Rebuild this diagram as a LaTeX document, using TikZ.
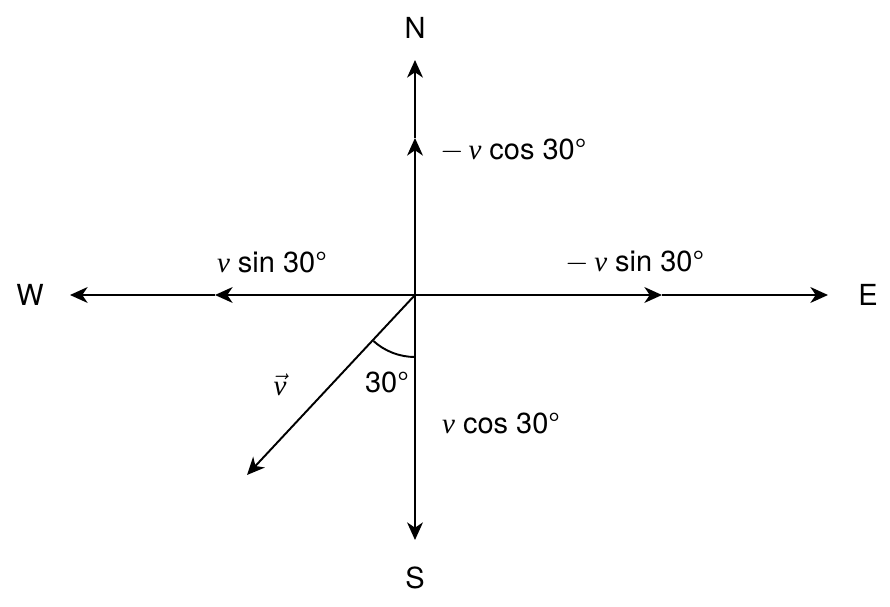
\documentclass[tikz,border=0pt]{standalone}
\usepackage{fontspec}
\setmainfont{TeX Gyre Heros}
\newfontfamily\vfont{Liberation Serif}
\usetikzlibrary{arrows.meta,positioning}
\newcommand{\vsym}{{\vfont\itshape v}}

\begin{document}
\begin{tikzpicture}[x=0.02cm,y=-0.02cm,
    font=\fontsize{16.5}{19}\selectfont,
    axis/.style={line width=1.1pt,-{Stealth[length=10pt,width=9pt,inset=3pt]}},
    lbl/.style={inner sep=1pt}]
    \useasboundingbox (0,0) rectangle (890,607);
    % points
    \coordinate (O) at (415,295);
    \coordinate (ntip) at (415,60);
    \coordinate (nmid) at (415,138);
    \coordinate (stip) at (415,540);
    \coordinate (wtip) at (70,295);
    \coordinate (wmid) at (215,295);
    \coordinate (etip) at (828,295);
    \coordinate (emid) at (662,295);
    \coordinate (vtip) at (247,475);
    % compass labels
    \node (N) at (415,28) {N};
    \node (S) at (415,578) {S};
    \node (W) at (30,295) {W};
    \node (E) at (868,295) {E};
    % axes with component arrows
    \draw[axis] (O) -- (nmid);
    \draw[axis] (nmid) -- (ntip);
    \draw[axis] (O) -- (wmid);
    \draw[axis] (wmid) -- (wtip);
    \draw[axis] (O) -- (emid);
    \draw[axis] (emid) -- (etip);
    \draw[axis] (O) -- (stip);
    \draw[axis] (O) -- (vtip);
    % angle
    \draw[line width=1.1pt] (415,357) arc[start angle=90,end angle=132,radius=62];
    % component labels
    \node[lbl,anchor=west] (ncomp) at (438,150) {$-$\,\vsym\ cos 30°};
    \node[lbl] (wcomp) at (272,262) {\vsym\ sin 30°};
    \node[lbl] (ecomp) at (635,262) {$-$\,\vsym\ sin 30°};
    \node[lbl,anchor=west] (scomp) at (440,423) {\vsym\ cos 30°};
    \node[lbl] (ang) at (387,382) {30°};
    \node[lbl] (vlab) at (280,385) {$\vec{\mbox{\vsym}}$};
\end{tikzpicture}
\end{document}
